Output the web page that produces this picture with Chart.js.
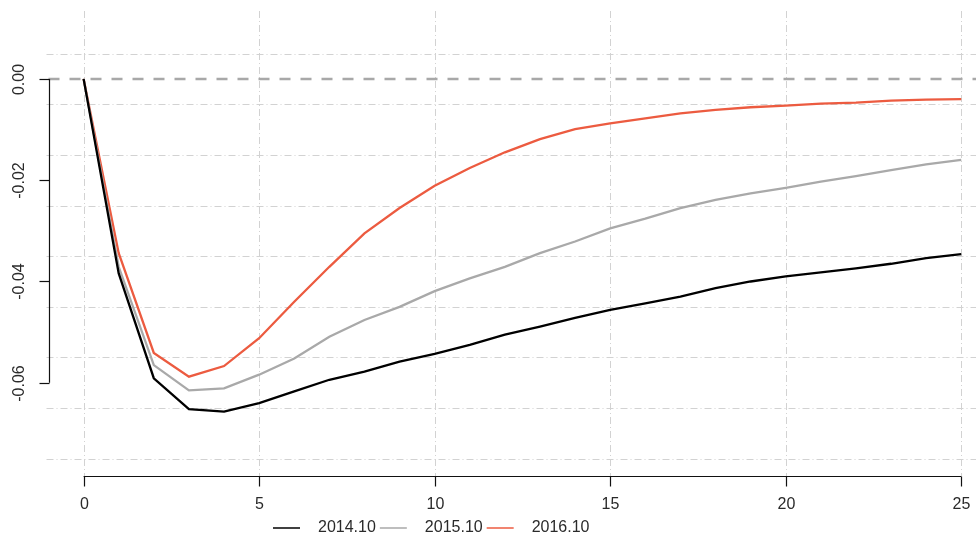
<!DOCTYPE html>
<html>
<head>
<meta charset="utf-8">
<script src="https://cdn.jsdelivr.net/npm/chart.js@4"></script>
<style>
  html, body { margin: 0; padding: 0; background: #ffffff; overflow: hidden; }
  canvas { display: block; }
</style>
</head>
<body>
<canvas id="irf" width="976" height="540"></canvas>
<script>
// Impulse responses over the horizon, one series per vintage
const periods = [0, 1, 2, 3, 4, 5, 6, 7, 8, 9, 10, 11, 12, 13, 14, 15, 16, 17, 18, 19, 20, 21, 22, 23, 24, 25];
const irf2014 = [0, -0.0384, -0.0591, -0.0652, -0.0657, -0.0640, -0.0617, -0.0594, -0.0578, -0.0558, -0.0543, -0.0525, -0.0505, -0.0489, -0.0472, -0.0456, -0.0443, -0.0430, -0.0413, -0.0400, -0.0390, -0.0382, -0.0374, -0.0365, -0.0354, -0.0346];
const irf2015 = [0, -0.0371, -0.0565, -0.0615, -0.0611, -0.0584, -0.0552, -0.0509, -0.0476, -0.0450, -0.0419, -0.0394, -0.0371, -0.0344, -0.0321, -0.0295, -0.0276, -0.0255, -0.0239, -0.0226, -0.0215, -0.0203, -0.0192, -0.0180, -0.0169, -0.0160];
const irf2016 = [0, -0.0344, -0.0541, -0.0588, -0.0567, -0.0512, -0.0440, -0.0371, -0.0305, -0.0255, -0.0211, -0.0176, -0.0145, -0.0119, -0.0099, -0.0088, -0.0078, -0.0068, -0.0061, -0.0056, -0.0053, -0.0049, -0.0047, -0.0043, -0.0041, -0.0040];
const seriesLabels = ['2014.10', '2015.10', '2016.10'];
const seriesColors = ['#000000', '#a9a9a9', '#ec5b40'];

const xTicks = [0, 5, 10, 15, 20, 25];
const yTicks = [0, -0.02, -0.04, -0.06];
const yTickLabels = ['0.00', '-0.02', '-0.04', '-0.06'];
const yGrid = [0.005, -0.005, -0.015, -0.025, -0.035, -0.045, -0.055, -0.065, -0.075];

const FONT = '16px "Liberation Sans", Arial, sans-serif';
const TEXT = '#2a2a2a';

function toPoints(values) {
  return values.map((v, i) => ({ x: periods[i], y: v }));
}

// Base-graphics style frame: dot-dash grid, dashed zero line, axes drawn only over the tick range
const frame = {
  id: 'frame',
  beforeDatasetsDraw(chart) {
    const { ctx, chartArea: a, scales: { x, y } } = chart;
    ctx.save();
    ctx.strokeStyle = '#d2d2d2';
    ctx.lineWidth = 1;
    ctx.setLineDash([7, 3, 1, 3]);
    yGrid.forEach(v => {
      const py = Math.round(y.getPixelForValue(v)) + 0.5;
      ctx.beginPath();
      ctx.moveTo(a.left - 2, py);
      ctx.lineTo(a.right, py);
      ctx.stroke();
    });
    xTicks.forEach(v => {
      const px = Math.round(x.getPixelForValue(v)) + 0.5;
      ctx.beginPath();
      ctx.moveTo(px, a.top);
      ctx.lineTo(px, a.bottom);
      ctx.stroke();
    });
    // zero reference line
    ctx.strokeStyle = '#a8a8a8';
    ctx.lineWidth = 2.5;
    ctx.setLineDash([11, 10]);
    const p0 = y.getPixelForValue(0);
    ctx.beginPath();
    ctx.moveTo(a.left, p0);
    ctx.lineTo(a.right, p0);
    ctx.stroke();
    ctx.restore();
  },
  afterDatasetsDraw(chart) {
    const { ctx, chartArea: a, scales: { x, y } } = chart;
    const tick = 10;
    ctx.save();
    ctx.setLineDash([]);
    ctx.strokeStyle = '#111111';
    ctx.lineWidth = 1.2;
    ctx.fillStyle = TEXT;
    ctx.font = FONT;

    // x axis
    const xb = Math.round(a.bottom) + 0.5;
    ctx.beginPath();
    ctx.moveTo(x.getPixelForValue(xTicks[0]), xb);
    ctx.lineTo(x.getPixelForValue(xTicks[xTicks.length - 1]), xb);
    ctx.stroke();
    ctx.textAlign = 'center';
    ctx.textBaseline = 'middle';
    xTicks.forEach(v => {
      const px = Math.round(x.getPixelForValue(v)) + 0.5;
      ctx.beginPath();
      ctx.moveTo(px, xb);
      ctx.lineTo(px, xb + tick);
      ctx.stroke();
      ctx.fillText(String(v), px, a.bottom + 29);
    });

    // y axis
    const yl = Math.round(a.left) + 0.5;
    ctx.beginPath();
    ctx.moveTo(yl, y.getPixelForValue(yTicks[0]));
    ctx.lineTo(yl, y.getPixelForValue(yTicks[yTicks.length - 1]));
    ctx.stroke();
    yTicks.forEach((v, i) => {
      const py = Math.round(y.getPixelForValue(v)) + 0.5;
      ctx.beginPath();
      ctx.moveTo(yl, py);
      ctx.lineTo(yl - tick, py);
      ctx.stroke();
      ctx.save();
      ctx.translate(a.left - 29, py);
      ctx.rotate(-Math.PI / 2);
      ctx.fillText(yTickLabels[i], 0, 0);
      ctx.restore();
    });

    // horizontal legend under the axis
    const ly = 528;
    let lx = 273;
    ctx.textAlign = 'left';
    chart.data.datasets.forEach(ds => {
      ctx.strokeStyle = ds.borderColor;
      ctx.lineWidth = 1.5;
      ctx.beginPath();
      ctx.moveTo(lx, ly);
      ctx.lineTo(lx + 27, ly);
      ctx.stroke();
      ctx.fillStyle = TEXT;
      ctx.fillText(ds.label, lx + 45, ly);
      lx += 45 + ctx.measureText(ds.label).width + 4;
    });
    ctx.restore();
  }
};

new Chart(document.getElementById('irf'), {
  type: 'line',
  data: {
    datasets: [irf2014, irf2015, irf2016].map((vals, i) => ({
      label: seriesLabels[i],
      data: toPoints(vals),
      borderColor: seriesColors[i],
      backgroundColor: seriesColors[i],
      borderWidth: 2.3,
      pointRadius: 0,
      tension: 0,
      fill: false
    }))
  },
  options: {
    responsive: false,
    animation: false,
    devicePixelRatio: 1,
    layout: { padding: { left: 48.5, right: 0, top: 11, bottom: 64 } },
    scales: {
      x: { type: 'linear', display: false, min: -1, max: 25.42 },
      y: { type: 'linear', display: false, min: -0.0784, max: 0.0134 }
    },
    plugins: {
      legend: { display: false },
      tooltip: { enabled: false }
    }
  },
  plugins: [frame]
});
</script>
</body>
</html>
